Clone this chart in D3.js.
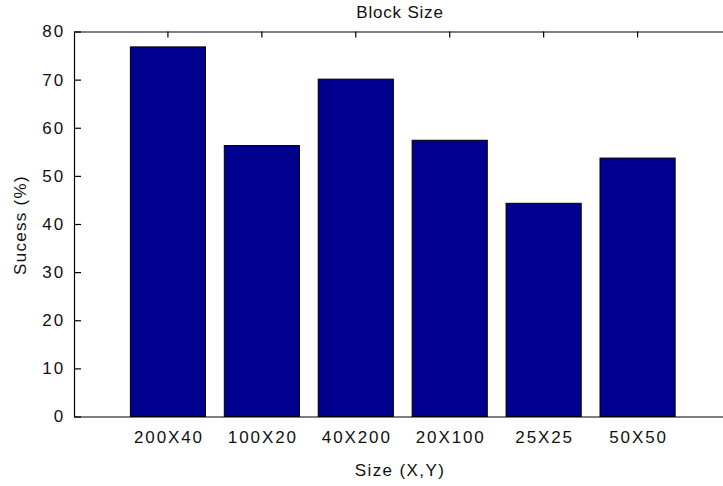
<!DOCTYPE html>
<html>
<head>
<meta charset="utf-8">
<script src="https://cdn.jsdelivr.net/npm/d3@7"></script>
<style>
  html, body { margin: 0; padding: 0; background: #ffffff; }
  svg { display: block; }
  text { font-family: "Liberation Sans", Arial, sans-serif; fill: #111; }
</style>
</head>
<body>
<script>
// Block size experiment: success rate per block shape
const categories = ["200X40", "100X20", "40X200", "20X100", "25X25", "50X50"];
const successValues = [76.8, 56.3, 70.1, 57.4, 44.3, 53.7];
const yTickValues = [0, 10, 20, 30, 40, 50, 60, 70, 80];

const W = 723, H = 486;
const plot = { left: 74, right: 731.5, top: 31.5, bottom: 416.5 };

const svg = d3.select("body").append("svg")
  .attr("width", W).attr("height", H);

const x = d3.scaleBand()
  .domain(categories)
  .range([plot.left, plot.right])
  .paddingInner(0.2)
  .paddingOuter(0.6);

const y = d3.scaleLinear()
  .domain([0, 80])
  .range([plot.bottom, plot.top]);

// Bars
svg.append("g")
  .selectAll("rect")
  .data(categories)
  .join("rect")
  .attr("x", d => x(d))
  .attr("y", (d, i) => y(successValues[i]))
  .attr("width", x.bandwidth())
  .attr("height", (d, i) => y(0) - y(successValues[i]))
  .attr("fill", "#00008f")
  .attr("stroke", "#000")
  .attr("stroke-width", 1);

const styleAxis = g => {
  g.selectAll("path.domain").attr("stroke", "#000").attr("stroke-width", 1.2);
  g.selectAll(".tick line").attr("stroke", "#000").attr("stroke-width", 1.2);
  g.selectAll(".tick text")
    .attr("fill", "#111")
    .style("font-size", "17px")
    .style("letter-spacing", "1.9px")
    .style("font-family", "'Liberation Sans', Arial, sans-serif");
};

// Left axis with inward ticks
svg.append("g")
  .attr("transform", `translate(${plot.left},0)`)
  .call(d3.axisLeft(y).tickValues(yTickValues).tickFormat(d3.format("d"))
    .tickSize(-7).tickSizeOuter(0).tickPadding(9))
  .call(styleAxis);

// Right axis line with inward ticks
svg.append("g")
  .attr("transform", `translate(${plot.right},0)`)
  .call(d3.axisRight(y).tickValues(yTickValues).tickFormat("")
    .tickSize(-7).tickSizeOuter(0))
  .call(styleAxis);

// Top axis with downward ticks at bar centers
svg.append("g")
  .attr("transform", `translate(0,${plot.top})`)
  .call(d3.axisTop(x).tickFormat("").tickSize(-6).tickSizeOuter(0))
  .call(styleAxis);

// Bottom axis with category labels
svg.append("g")
  .attr("transform", `translate(0,${plot.bottom})`)
  .call(d3.axisBottom(x).tickSize(0).tickSizeOuter(0).tickPadding(14))
  .call(styleAxis)
  .call(g => g.selectAll(".tick text").attr("dx", "1px"));

// Title and axis labels
svg.append("text")
  .attr("x", 400).attr("y", 18)
  .attr("text-anchor", "middle")
  .style("font-size", "17px").style("letter-spacing", "0.8px")
  .text("Block Size");

svg.append("text")
  .attr("x", 400).attr("y", 476)
  .attr("text-anchor", "middle")
  .style("font-size", "17px").style("letter-spacing", "1.4px")
  .text("Size (X,Y)");

svg.append("text")
  .attr("transform", "translate(26,225) rotate(-90)")
  .attr("text-anchor", "middle")
  .style("font-size", "17px").style("letter-spacing", "1.3px")
  .text("Sucess (%)");
</script>
</body>
</html>
